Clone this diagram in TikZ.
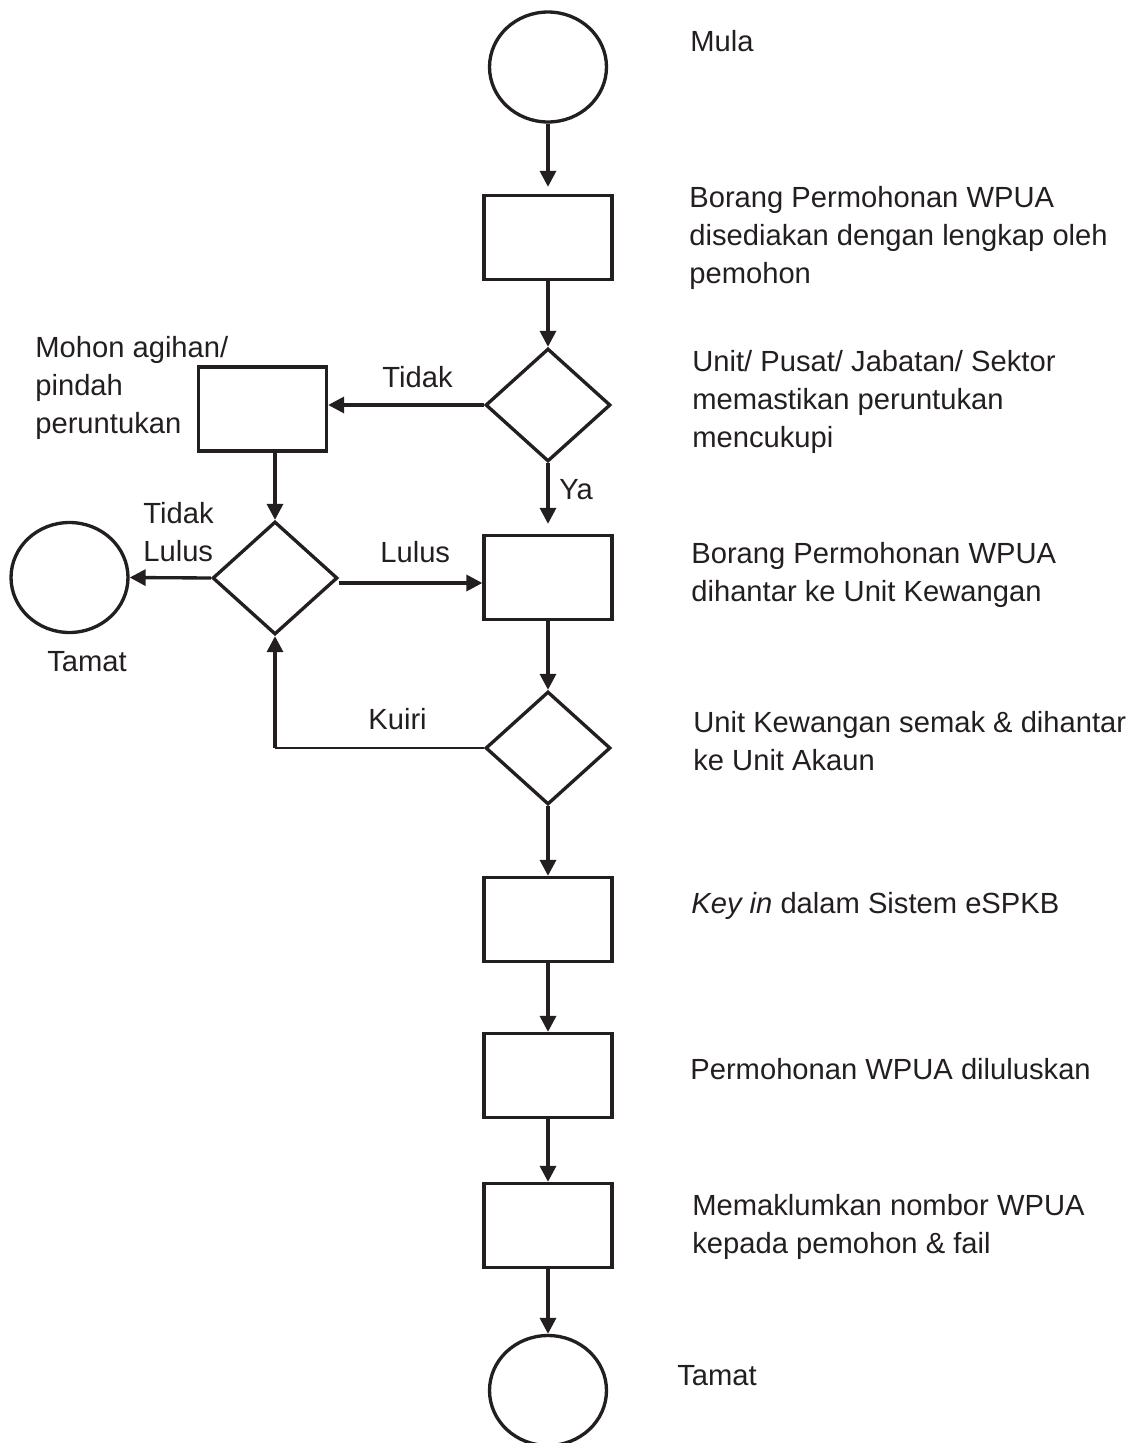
\documentclass[tikz,border=0pt]{standalone}
\usepackage{fontspec}
\setmainfont{Liberation Sans}
\usetikzlibrary{arrows.meta, positioning, shapes.geometric}
\definecolor{InkBlack}{HTML}{231F20}
\tikzset{
  terminal/.style={draw=InkBlack, line width=1.9pt, ellipse, minimum width=2.34cm, minimum height=2.2cm, inner sep=0pt},
  process/.style={draw=InkBlack, line width=1.9pt, rectangle, minimum width=2.56cm, minimum height=1.68cm, inner sep=0pt},
  decision/.style={draw=InkBlack, line width=1.9pt, diamond, minimum width=2.5cm, minimum height=2.26cm, inner sep=0pt},
  note/.style={anchor=west, align=left, inner sep=0pt, text=InkBlack, font=\fontsize{16.6}{21.6}\selectfont},
  arrow/.style={-{Triangle[length=0.32cm, width=0.32cm]}, line width=1.9pt, draw=InkBlack},
  thinline/.style={line width=0.9pt, draw=InkBlack}
}

\begin{document}
\begin{tikzpicture}[x=0.02cm, y=-0.02cm]
\useasboundingbox (0,0) rectangle (1140,1443);
% main column
\node[terminal] (start) at (548,67) {};
\node[process] (formA) at (548,237.5) {};
\node[decision] (checkA) at (548,405) {};
\node[process] (hantar) at (548,577.5) {};
\node[decision] (semak) at (548,748) {};
\node[process] (keyin) at (548,919.5) {};
\node[process] (lulus) at (548,1075.5) {};
\node[process] (maklum) at (548,1225.5) {};
\node[terminal] (stop) at (548,1390.5) {};
% left branch
\node[process] (mohon) at (262.5,409) {};
\node[decision] (checkB) at (275,578) {};
\node[terminal] (stopL) at (69.5,577.5) {};
\coordinate (kuiri) at (checkB.south |- semak.west);

% descriptions
\node[note] (tMula) at (690,41.5) {Mula};
\node[note] (tFormA) at (689,238) {Borang Permohonan WPUA\\disediakan dengan lengkap oleh\\pemohon};
\node[note] (tCheckA) at (692,402) {Unit/ Pusat/ Jabatan/ Sektor\\memastikan peruntukan\\mencukupi};
\node[note] (tHantar) at (691,575) {Borang Permohonan WPUA\\dihantar ke Unit Kewangan};
\node[note] (tSemak) at (693,741.5) {Unit Kewangan semak \& dihantar\\ke Unit Akaun};
\node[note] (tKeyin) at (691,906) {\textit{Key in} dalam Sistem eSPKB};
\node[note] (tLulus) at (690,1069.5) {Permohonan WPUA diluluskan};
\node[note] (tMaklum) at (692,1226.5) {Memaklumkan nombor WPUA\\kepada pemohon \& fail};
\node[note] (tStop) at (677,1376) {Tamat};
\node[note] (tMohon) at (35,388) {Mohon agihan/\\pindah\\peruntukan};
\node[note] (tStopL) at (47,661.5) {Tamat};

% branch labels
\node[note] (lTidak) at (382,377.5) {Tidak};
\node[note] (lYa) at (559,489.5) {Ya};
\node[note] (lTidakLulus) at (143,532.5) {Tidak\\Lulus};
\node[note] (lLulus) at (380,552.5) {Lulus};
\node[note] (lKuiri) at (368,719.5) {Kuiri};

% connectors
\draw[arrow, shorten >=0.14cm] (start) -- (formA);
\draw[arrow] (formA) -- (checkA);
\draw[arrow, shorten >=0.2cm] (checkA) -- (hantar);
\draw[arrow] (hantar) -- (semak);
\draw[arrow] (semak) -- (keyin);
\draw[arrow] (keyin) -- (lulus);
\draw[arrow] (lulus) -- (maklum);
\draw[arrow] (maklum) -- (stop);
\draw[arrow] (checkA.west) -- (checkA.west -| mohon.east);
\draw[arrow] (mohon.south -| checkB.north) -- (checkB.north);
\draw[arrow] (checkB.west) -- (stopL.east);
\draw[arrow] ([yshift=-0.1cm]checkB.east) -- ([yshift=-0.1cm]checkB.east -| hantar.west);
\draw[thinline] (semak.west) -- (kuiri);
\draw[arrow] (kuiri) -- (checkB.south);
\end{tikzpicture}
\end{document}
